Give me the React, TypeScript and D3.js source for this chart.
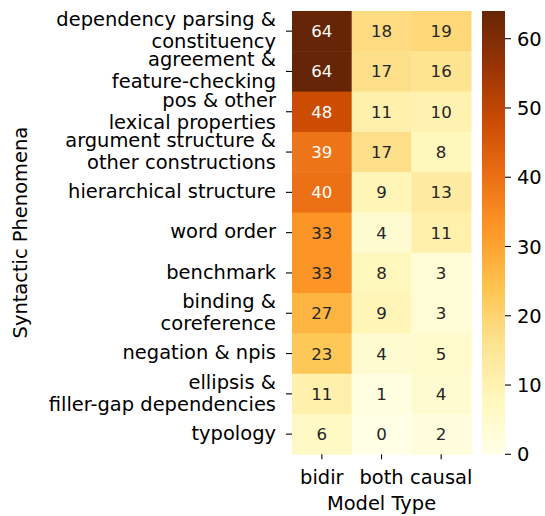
import React from "react";
import * as d3 from "d3";

const rowLabels = [
  "dependency parsing &\nconstituency",
  "agreement &\nfeature-checking",
  "pos & other\nlexical properties",
  "argument structure &\nother constructions",
  "hierarchical structure",
  "word order",
  "benchmark",
  "binding &\ncoreference",
  "negation & npis",
  "ellipsis &\nfiller-gap dependencies",
  "typology",
];
const colLabels = ["bidir", "both", "causal"];
const bidir = [64, 64, 48, 39, 40, 33, 33, 27, 23, 11, 6];
const both = [18, 17, 11, 17, 9, 4, 8, 9, 4, 1, 0];
const causal = [19, 16, 10, 8, 13, 11, 3, 3, 5, 4, 2];
const colorbarTicks = [0, 10, 20, 30, 40, 50, 60];
const ylorbr = ["#ffffe5", "#fff7bc", "#fee391", "#fec44f", "#fe9929", "#ec7014", "#cc4c02", "#993404", "#662506"];

const W = 545, H = 516;
const left = 292, right = 471, top = 11, bottom = 454.3;
const cbLeft = 482, cbRight = 505;
const vmin = 0, vmax = 64;
const FS = 19.44, AFS = 16.67;
const FONT = "DejaVu Sans, sans-serif";

function lum(c: string) {
  const rgb = d3.rgb(c);
  const f = (v: number) => {
    v /= 255;
    return v <= 0.03928 ? v / 12.92 : Math.pow((v + 0.055) / 1.055, 2.4);
  };
  return 0.2126 * f(rgb.r) + 0.7152 * f(rgb.g) + 0.0722 * f(rgb.b);
}

export default function App() {
  const series = [bidir, both, causal];
  const x = d3.scaleBand<string>().domain(colLabels).range([left, right]);
  const y = d3.scaleBand<string>().domain(rowLabels).range([top, bottom]);
  const color = d3
    .scaleLinear<string>()
    .domain(ylorbr.map((_, i) => vmin + (i * (vmax - vmin)) / (ylorbr.length - 1)))
    .range(ylorbr)
    .interpolate(d3.interpolateRgb)
    .clamp(true);
  const cbY = d3.scaleLinear().domain([vmin, vmax]).range([bottom, top]);
  const lh = 22;
  const stops = d3.range(0, 1.0001, 1 / 32);

  return (
    <svg width={W} height={H} style={{ position: "absolute", left: 0, top: 0 }} fontFamily={FONT}>
      <defs>
        <linearGradient id="cb" x1="0" y1="1" x2="0" y2="0">
          {stops.map((t, i) => (
            <stop key={i} offset={t} stopColor={color(vmin + t * (vmax - vmin))} />
          ))}
        </linearGradient>
      </defs>
      <rect width={W} height={H} fill="white" />
      {rowLabels.map((r, i) =>
        series.map((s, j) => {
          const v = s[i];
          const c = color(v);
          return (
            <g key={`${i}-${j}`}>
              <rect
                x={x(colLabels[j])!}
                y={y(r)!}
                width={x.bandwidth() + 0.5}
                height={y.bandwidth() + 0.5}
                fill={c}
              />
              <text
                x={x(colLabels[j])! + x.bandwidth() / 2}
                y={y(r)! + y.bandwidth() / 2 + AFS * 0.36}
                textAnchor="middle"
                fontSize={AFS}
                fill={lum(c) > 0.408 ? "#262626" : "#ffffff"}
              >
                {v}
              </text>
            </g>
          );
        })
      )}
      {rowLabels.map((r) => {
        const cy = y(r)! + y.bandwidth() / 2;
        const lines = r.split("\n");
        return (
          <g key={r}>
            <line x1={286} x2={292} y1={cy} y2={cy} stroke="#000" strokeWidth={1.1} />
            {lines.map((ln, k) => (
              <text
                key={k}
                x={276}
                y={cy + (k - (lines.length - 1) / 2) * lh + FS * 0.3}
                textAnchor="end"
                fontSize={FS}
                fill="#000"
              >
                {ln}
              </text>
            ))}
          </g>
        );
      })}
      {colLabels.map((c) => {
        const cx = x(c)! + x.bandwidth() / 2;
        return (
          <g key={c}>
            <line x1={cx} x2={cx} y1={bottom} y2={bottom + 5} stroke="#000" strokeWidth={1.1} />
            <text x={cx} y={484.3} textAnchor="middle" fontSize={FS} fill="#000">
              {c}
            </text>
          </g>
        );
      })}
      <text x={(left + right) / 2} y={510} textAnchor="middle" fontSize={FS} fill="#000">
        Model Type
      </text>
      <text
        transform={`translate(27,${(top + bottom) / 2}) rotate(-90)`}
        textAnchor="middle"
        fontSize={FS}
        fill="#000"
      >
        Syntactic Phenomena
      </text>
      <rect x={cbLeft} y={top} width={cbRight - cbLeft} height={bottom - top} fill="url(#cb)" />
      {colorbarTicks.map((t) => (
        <g key={t}>
          <line x1={cbRight} x2={cbRight + 6} y1={cbY(t)} y2={cbY(t)} stroke="#000" strokeWidth={1.1} />
          <text x={cbRight + 12} y={cbY(t) + FS * 0.36} fontSize={FS} fill="#000">
            {t}
          </text>
        </g>
      ))}
    </svg>
  );
}
